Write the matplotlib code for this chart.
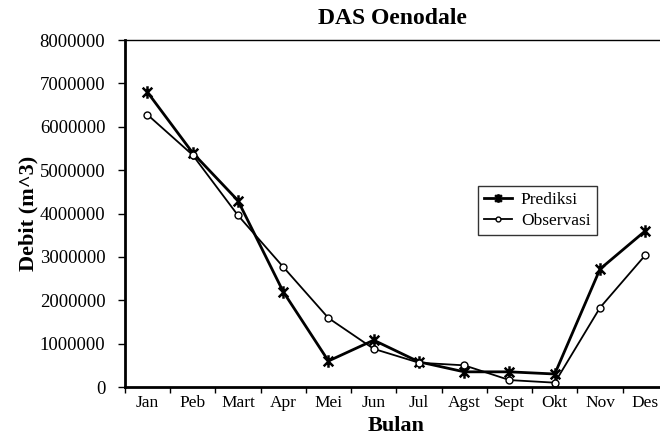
import matplotlib.pyplot as plt
from matplotlib.path import Path

bulan = ['Jan', 'Peb', 'Mart', 'Apr', 'Mei', 'Jun', 'Jul', 'Agst', 'Sept', 'Okt', 'Nov', 'Des']
prediksi = [6800000, 5400000, 4300000, 2200000, 600000, 1080000, 580000, 350000, 350000, 300000, 2720000, 3600000]
observasi = [6280000, 5350000, 3960000, 2770000, 1590000, 880000, 560000, 500000, 160000, 100000, 1830000, 3040000]
yticks = [0, 1000000, 2000000, 3000000, 4000000, 5000000, 6000000, 7000000, 8000000]

plt.rcParams['font.family'] = ['Liberation Serif', 'DejaVu Serif']

# excel-like star: an x plus a vertical bar
star = Path([(-1, -1), (1, 1), (-1, 1), (1, -1), (0, -1.3), (0, 1.3)],
            [Path.MOVETO, Path.LINETO, Path.MOVETO, Path.LINETO, Path.MOVETO, Path.LINETO])

fig = plt.figure(figsize=(6.6, 4.42), dpi=100)
ax = fig.add_axes([0.189, 0.1244, 0.823, 0.785])

x = list(range(len(bulan)))
ax.plot(x, prediksi, 'k-', marker=star, markersize=9, markeredgewidth=1.8, linewidth=2.0, label='Prediksi')
ax.plot(x, observasi, 'k-', marker='o', markersize=5, markerfacecolor='white', markeredgewidth=1.0, linewidth=1.3, label='Observasi')

ax.set_xlim(-0.5, 11.5)
ax.set_ylim(0, 8000000)
ax.set_yticks(yticks)
ax.set_yticklabels([str(v) for v in yticks], fontsize=13.5)
ax.set_xticks([i - 0.5 for i in range(len(bulan) + 1)])
ax.set_xticklabels([])
ax.set_xticks(x, minor=True)
ax.set_xticklabels(bulan, minor=True, fontsize=12.5)
ax.tick_params(axis='x', which='minor', length=0, pad=6)
ax.tick_params(axis='x', which='major', direction='out', length=4, width=1)
ax.tick_params(axis='y', direction='out', length=5, width=1, pad=9)

ax.spines['right'].set_visible(False)
ax.spines['left'].set_linewidth(2)
ax.spines['bottom'].set_linewidth(2)
ax.spines['top'].set_linewidth(1)

fig.text(0.595, 0.958, 'DAS Oenodale', ha='center', va='center', fontsize=17, fontweight='bold')
ax.set_xlabel('Bulan', fontsize=16, fontweight='bold', labelpad=3)
ax.set_ylabel('Debit (m^3)', fontsize=16, fontweight='bold', labelpad=1)

leg = ax.legend(loc='upper left', bbox_to_anchor=(0.635, 0.605), fontsize=12.5,
                frameon=True, fancybox=False, edgecolor='black', handlelength=1.6,
                borderpad=0.35, labelspacing=0.3, handletextpad=0.5, markerscale=0.7)
leg.get_frame().set_linewidth(1.0)

fig.savefig('out.png', dpi=100)
plt.close(fig)
